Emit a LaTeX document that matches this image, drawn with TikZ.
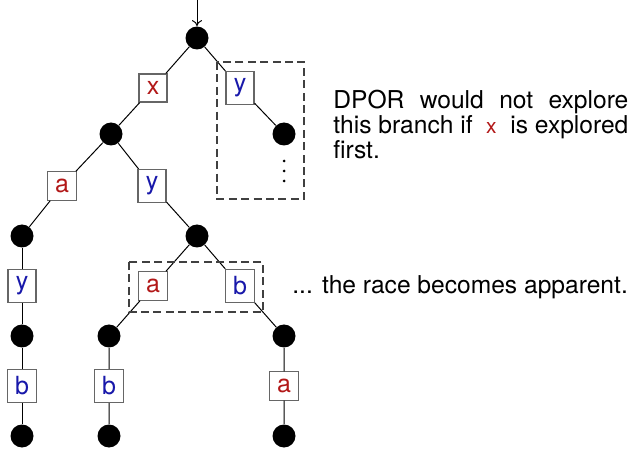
\documentclass[tikz,border=0pt]{standalone}
\usepackage{fontspec}
\setmainfont{TeX Gyre Heros}
\usetikzlibrary{arrows.meta}
\definecolor{lblred}{RGB}{178,24,24}
\definecolor{lblblue}{RGB}{24,24,170}
\begin{document}
\begin{tikzpicture}[x=0.5pt,y=-0.5pt,
  state/.style={circle,fill=black,inner sep=0pt,minimum size=11.5pt},
  act/.style={draw=black!60,fill=white,line width=0.6pt,minimum size=14pt,
    inner sep=3.6pt,font=\fontsize{12.5}{14}\selectfont},
  ra/.style={act,text=lblred},
  ba/.style={act,text=lblblue},
  edge/.style={line width=0.5pt},
  region/.style={draw=black!75,line width=0.6pt,dash pattern=on 4pt off 2.2pt},
  note/.style={inner sep=0pt,font=\fontsize{12.3}{12.5}\selectfont}]
\useasboundingbox (0,0) rectangle (633,449);

% exploration tree: states and actions
\node[state] (root) at (197,38) {};
\node[ra] (x1) at (153,88) {x};
\node[ba] (y1) at (240,88) {y};
\node[state] (c1) at (284,134) {};
\node[state] (n1) at (111,134) {};
\node[ra] (a1) at (62,186) {a};
\node[ba] (y2) at (152,186) {y};
\node[state] (n2) at (22,236) {};
\node[state] (n3) at (197,236) {};
\node[ba] (y3) at (22,286) {y};
\node[state] (n4) at (22,336) {};
\node[ba] (b1) at (22,386) {b};
\node[state] (n5) at (22,436) {};
\node[ra] (a2) at (153,286) {a};
\node[ba] (b2) at (240,286) {b};
\node[state] (n6) at (109,336) {};
\node[ba] (b3) at (109,386) {b};
\node[state] (n7) at (109,436) {};
\node[state] (n8) at (284,336) {};
\node[ra] (a3) at (284,386) {a};
\node[state] (n9) at (284,436) {};

% entry arrow
\coordinate (entry) at (197,0);
\draw[edge,-{To[length=3pt,width=5pt]}] (entry) -- (root);

% transitions
\draw[edge] (root) -- (x1) (x1) -- (n1);
\draw[edge] (root) -- (y1) (y1) -- (c1);
\draw[edge] (n1) -- (a1) (a1) -- (n2);
\draw[edge] (n1) -- (y2) (y2) -- (n3);
\draw[edge] (n2) -- (y3) (y3) -- (n4) (n4) -- (b1) (b1) -- (n5);
\draw[edge] (n3) -- (a2) (a2) -- (n6) (n6) -- (b3) (b3) -- (n7);
\draw[edge] (n3) -- (b2) (b2) -- (n8) (n8) -- (a3) (a3) -- (n9);

% continuation dots below the pruned branch
\foreach \yy in {161,171,181} \fill (284,\yy) circle (0.75pt);

% highlighted regions
\draw[region] (217,62) rectangle (304,199);
\draw[region] (129,262) rectangle (263,312);

% annotations
\node[note,anchor=north west,text width=147.5pt,align=justify] (noteA) at (333,89.5)
  {DPOR would not explore\linebreak this branch if\hspace{4pt plus 1fil}{\fontsize{10.5}{12.5}\selectfont\color{lblred}x}\hspace{4pt plus 1fil}is explored\linebreak first.};
\node[note,anchor=base west] (noteB) at (292,293) {... the race becomes apparent.};
\end{tikzpicture}
\end{document}
